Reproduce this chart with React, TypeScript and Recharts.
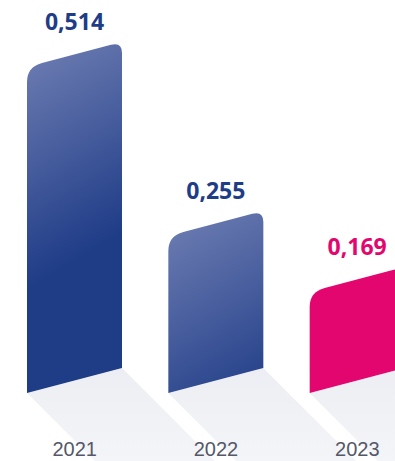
import { BarChart, Bar, XAxis, YAxis, LabelList } from "recharts";

const years = ["2021", "2022", "2023"];
const values = [0.514, 0.255, 0.169];

const data = years.map((year, i) => ({ year, value: values[i] }));

const NAVY = "#1f3c87";
const NAVY_LIGHT = "#6f7eb3";
const PINK = "#e2066e";
const HIGHLIGHT = "2023";

const SLANT = 25;
const R_LEFT = 15;
const R_RIGHT = 11;
const SHADOW = 140;

function fmt(v: number) {
  return v.toFixed(3).replace(".", ",");
}

function SlantBar(props: any) {
  const { x, y, width: w, height: h, index, payload } = props;
  const s = SLANT / 2;
  const yb = y + h;
  const tl = y + s;
  const tr = y - s;
  const br = yb - s;
  const bl = yb + s;
  const k = SLANT / w;
  const pink = payload.year === HIGHLIGHT;
  const gid = `bar-grad-${index}`;
  const sid = `shadow-grad-${index}`;

  const bar =
    `M${x},${bl} L${x},${tl + R_LEFT} Q${x},${tl} ${x + R_LEFT},${tl - R_LEFT * k} ` +
    `L${x + w - R_RIGHT},${tr + R_RIGHT * k} Q${x + w},${tr} ${x + w},${tr + R_RIGHT} ` +
    `L${x + w},${br} Z`;
  const shadow = `M${x},${bl} L${x + w},${br} L${x + w + SHADOW},${br + SHADOW} L${x + SHADOW},${bl + SHADOW} Z`;

  return (
    <g>
      <defs>
        <linearGradient id={gid} gradientUnits="userSpaceOnUse" x1={x} y1={tl - 20} x2={x + 107} y2={tl + 159}>
          <stop offset="0" stopColor={NAVY_LIGHT} />
          <stop offset="1" stopColor={NAVY} />
        </linearGradient>
        <linearGradient id={sid} x1="0" y1="0" x2="0" y2="1">
          <stop offset="0" stopColor="#eceef3" />
          <stop offset="1" stopColor="#f9fafb" />
        </linearGradient>
      </defs>
      <path d={shadow} fill={`url(#${sid})`} />
      <path d={bar} fill={pink ? PINK : `url(#${gid})`} />
    </g>
  );
}

function ValueLabel(props: any) {
  const { x, y, width, value, index } = props;
  const pink = years[index] === HIGHLIGHT;
  return (
    <text
      x={x + width / 2}
      y={y - 33}
      textAnchor="middle"
      dominantBaseline="central"
      fontFamily="'Open Sans', sans-serif"
      fontWeight={700}
      fontSize={23}
      fill={pink ? PINK : NAVY}
    >
      {fmt(value)}
    </text>
  );
}

function YearTick(props: any) {
  const { x, y, payload } = props;
  return (
    <text
      x={x}
      y={y}
      textAnchor="middle"
      dominantBaseline="central"
      fontFamily="'Liberation Sans', Arial, sans-serif"
      fontSize={20}
      fill="#555868"
    >
      {payload.value}
    </text>
  );
}

export default function App() {
  return (
    <div
      style={{
        position: "absolute",
        left: 0,
        top: 0,
        width: 395,
        height: 461,
        overflow: "hidden",
        background: "#fff",
      }}
    >
      <BarChart
        width={432}
        height={461}
        data={data}
        margin={{ top: 31, right: 4, bottom: 0, left: 4 }}
        barSize={95}
      >
        <XAxis
          dataKey="year"
          axisLine={false}
          tickLine={false}
          tickSize={6}
          tickMargin={62.5}
          height={80.5}
          tick={<YearTick />}
          interval={0}
        />
        <YAxis hide domain={[0.014, 0.55]} />
        <Bar dataKey="value" shape={<SlantBar />} isAnimationActive={false}>
          <LabelList dataKey="value" content={<ValueLabel />} />
        </Bar>
      </BarChart>
    </div>
  );
}
